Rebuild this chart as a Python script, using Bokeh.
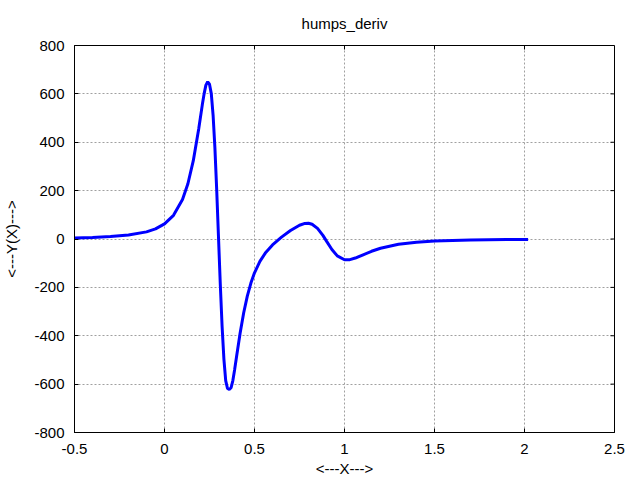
import math
from bokeh.plotting import figure
from bokeh.models import FixedTicker, Range1d
from bokeh.embed import file_html
from bokeh.resources import INLINE

# values
x_vals = [-0.5, -0.4, -0.3, -0.2, -0.1, -0.05, 0.0, 0.05, 0.1, 0.13, 0.16, 0.19,
          0.21, 0.22, 0.23, 0.24, 0.25, 0.26, 0.27, 0.28, 0.29, 0.30, 0.31, 0.32,
          0.33, 0.34, 0.35, 0.36, 0.37, 0.38, 0.39, 0.40, 0.42, 0.44, 0.46, 0.48,
          0.50, 0.53, 0.56, 0.60, 0.65, 0.70, 0.75, 0.78, 0.80, 0.82, 0.85, 0.88,
          0.90, 0.93, 0.96, 1.00, 1.03, 1.06, 1.10, 1.15, 1.20, 1.30, 1.40, 1.50,
          1.60, 1.70, 1.80, 1.90, 2.00, 2.02]
y_vals = [4.5, 6.5, 9.9, 16.2, 29.5, 42.0, 62.5, 98.0, 163.5, 228.5, 324.0, 455.0,
          554.6, 600.0, 636.0, 650.0, 640.0, 601.0, 511.6, 377.0, 203.3, 7.5, -188.3, -361.6,
          -496.4, -585.6, -618.0, -622.0, -615.0, -584.1, -538.1, -488.1, -390.0, -305.1, -236.4, -182.3,
          -140.0, -92.6, -58.3, -24.5, 7.7, 34.8, 56.9, 64.5, 65.2, 61.1, 44.1, 14.8,
          -8.8, -43.5, -69.8, -85.6, -85.3, -78.8, -66.3, -50.8, -38.2, -22.0, -13.4, -8.6,
          -5.9, -4.2, -3.1, -2.3, -1.8, -1.7]

x_ticks = [-0.5, 0, 0.5, 1, 1.5, 2, 2.5]
x_tick_labels = ["-0.5", "0", "0.5", "1", "1.5", "2", "2.5"]
y_ticks = [-800, -600, -400, -200, 0, 200, 400, 600, 800]
y_tick_labels = ["-800", "-600", "-400", "-200", "0", "200", "400", "600", "800"]

X_MIN, X_MAX = -0.5, 2.5
Y_MIN, Y_MAX = -800, 800

FONT = "Liberation Sans"
FS = "15px"

p = figure(width=640, height=480,
           x_range=Range1d(X_MIN, X_MAX), y_range=Range1d(Y_MIN, Y_MAX),
           output_backend="svg", toolbar_location=None,
           title="humps_deriv",
           x_axis_label="<---X--->", y_axis_label="<---Y(X)--->",
           min_border_left=74, min_border_right=26,
           min_border_top=45, min_border_bottom=48)

p.background_fill_color = "white"
p.border_fill_color = "white"
p.outline_line_color = "black"
p.outline_line_width = 1

p.title.align = "center"
p.title.vertical_align = "middle"
p.title.text_baseline = "middle"
p.title.text_font = FONT
p.title.text_font_size = FS
p.title.text_font_style = "normal"
p.title.text_color = "black"
p.title.standoff = 26

for g in (p.xgrid, p.ygrid):
    g.grid_line_color = "#a0a0a0"
    g.grid_line_dash = "2 2"
    g.grid_line_width = 1
p.xgrid.ticker = FixedTicker(ticks=x_ticks)
p.ygrid.ticker = FixedTicker(ticks=y_ticks)

p.line(x_vals, y_vals, line_color="#0000ff", line_width=3)

# mirrored inward ticks on the top and right edges of the frame
p.ray(x=x_ticks, y=[Y_MAX] * len(x_ticks), length=4, length_units="screen",
      angle=-math.pi / 2, line_color="black", line_width=1)
p.ray(x=[X_MAX] * len(y_ticks), y=y_ticks, length=4, length_units="screen",
      angle=math.pi, line_color="black", line_width=1)

xax = p.xaxis[0]
yax = p.yaxis[0]
xax.ticker = FixedTicker(ticks=x_ticks)
xax.major_label_overrides = dict(zip(x_ticks, x_tick_labels))
yax.ticker = FixedTicker(ticks=y_ticks)
yax.major_label_overrides = dict(zip(y_ticks, y_tick_labels))

for ax in (xax, yax):
    ax.major_tick_in = 4
    ax.major_tick_out = 0
    ax.minor_tick_line_color = None
    ax.axis_line_color = "black"
    ax.major_tick_line_color = "black"
    ax.major_label_text_font = FONT
    ax.major_label_text_font_size = FS
    ax.major_label_text_color = "black"
    ax.axis_label_text_font = FONT
    ax.axis_label_text_font_size = FS
    ax.axis_label_text_font_style = "normal"
    ax.axis_label_text_color = "black"

xax.major_label_standoff = 11
xax.axis_label_standoff = 3
yax.major_label_standoff = 10
yax.axis_label_standoff = 11

open("out.html", "w").write(file_html(p, INLINE))
